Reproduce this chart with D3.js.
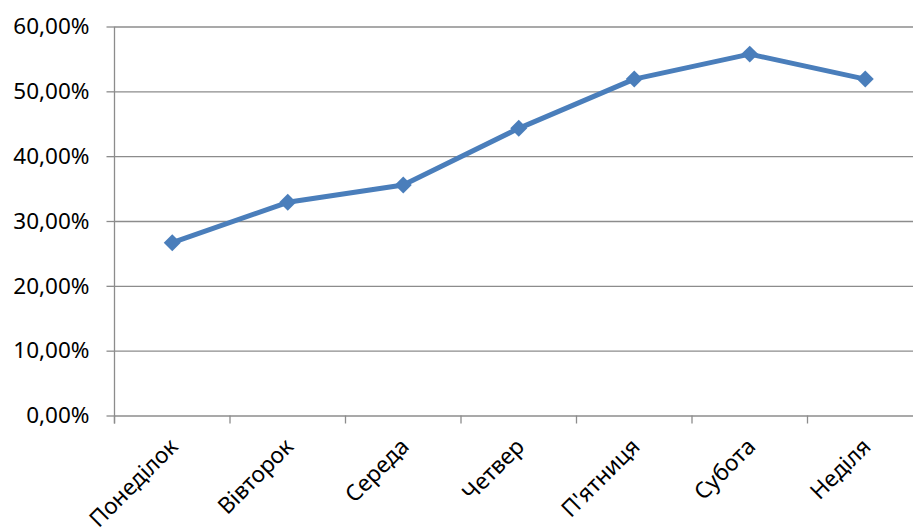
<!DOCTYPE html>
<html>
<head>
<meta charset="utf-8">
<script src="https://cdn.jsdelivr.net/npm/d3@7"></script>
<style>
  html, body { margin: 0; padding: 0; background: #fff; }
  svg { display: block; }
  text { font-family: "Noto Sans", "Open Sans", sans-serif; }
</style>
</head>
<body>
<div id="chart"></div>
<script>
const days = ["Понеділок", "Вівторок", "Середа", "Четвер", "П'ятниця", "Субота", "Неділя"];
const shares = [0.2665, 0.3288, 0.3554, 0.4429, 0.5189, 0.5574, 0.5189];
const yTicks = [0, 0.1, 0.2, 0.3, 0.4, 0.5, 0.6];

const W = 913, H = 531;
const LINE = "#4a7ebb";
const GRID = "#8c8c8c";
const FONT = "22.5px";

const uk = d3.formatLocale({ decimal: ",", thousands: " ", grouping: [3], currency: ["", " ₴"] });
const fmtPct = uk.format(".2%");

const svg = d3.select("#chart").append("svg")
  .attr("width", W)
  .attr("height", H)
  .attr("viewBox", [0, 0, W, H]);

// plot area runs a bit past the right edge, as in the original
const x = d3.scaleBand().domain(days).range([114.5, 923]).padding(0);
const y = d3.scaleLinear().domain([0, 0.6]).range([415.5, 26.5]);

// gridlines
svg.append("g")
  .attr("transform", "translate(114.5,0)")
  .call(d3.axisLeft(y).tickValues(yTicks).tickSize(-(923 - 114.5)).tickFormat(""))
  .call(g => g.select(".domain").remove())
  .call(g => g.selectAll("line").attr("stroke", GRID).attr("stroke-width", 1.3));

// y axis with labels
svg.append("g")
  .attr("transform", "translate(114.5,0)")
  .call(d3.axisLeft(y).tickValues(yTicks).tickSize(8).tickSizeOuter(0).tickPadding(17).tickFormat(fmtPct))
  .attr("font-family", null)
  .attr("font-size", FONT)
  .call(g => g.select(".domain").attr("d", `M0,${y(0.6)}V${y(0) + 8}`).attr("stroke", GRID).attr("stroke-width", 1.3))
  .call(g => g.selectAll("line").attr("stroke", GRID).attr("stroke-width", 1.3))
  .call(g => g.selectAll("text").attr("fill", "#000"));

// x axis: ticks at band edges
const edges = days.map(d => x(d)).concat([x.range()[1]]);
svg.append("g")
  .selectAll("line")
  .data(edges)
  .join("line")
  .attr("x1", d => d).attr("x2", d => d)
  .attr("y1", y(0)).attr("y2", y(0) + 8)
  .attr("stroke", GRID).attr("stroke-width", 1.3);

svg.append("g")
  .selectAll("text")
  .data(days)
  .join("text")
  .attr("transform", d => `translate(${x(d) + x.bandwidth() / 2 + 7},${448}) rotate(-45)`)
  .attr("text-anchor", "end")
  .attr("font-size", FONT)
  .attr("fill", "#000")
  .text(d => d);

// series line
const line = d3.line()
  .x((d, i) => x(days[i]) + x.bandwidth() / 2)
  .y(d => y(d));

svg.append("path")
  .datum(shares)
  .attr("fill", "none")
  .attr("stroke", LINE)
  .attr("stroke-width", 5)
  .attr("stroke-linejoin", "round")
  .attr("d", line);

// diamond markers
const diamond = d3.symbol().type(d3.symbolSquare).size(144);
svg.append("g")
  .selectAll("path")
  .data(shares)
  .join("path")
  .attr("transform", (d, i) => `translate(${x(days[i]) + x.bandwidth() / 2},${y(d)}) rotate(45)`)
  .attr("d", diamond)
  .attr("fill", LINE);
</script>
</body>
</html>
